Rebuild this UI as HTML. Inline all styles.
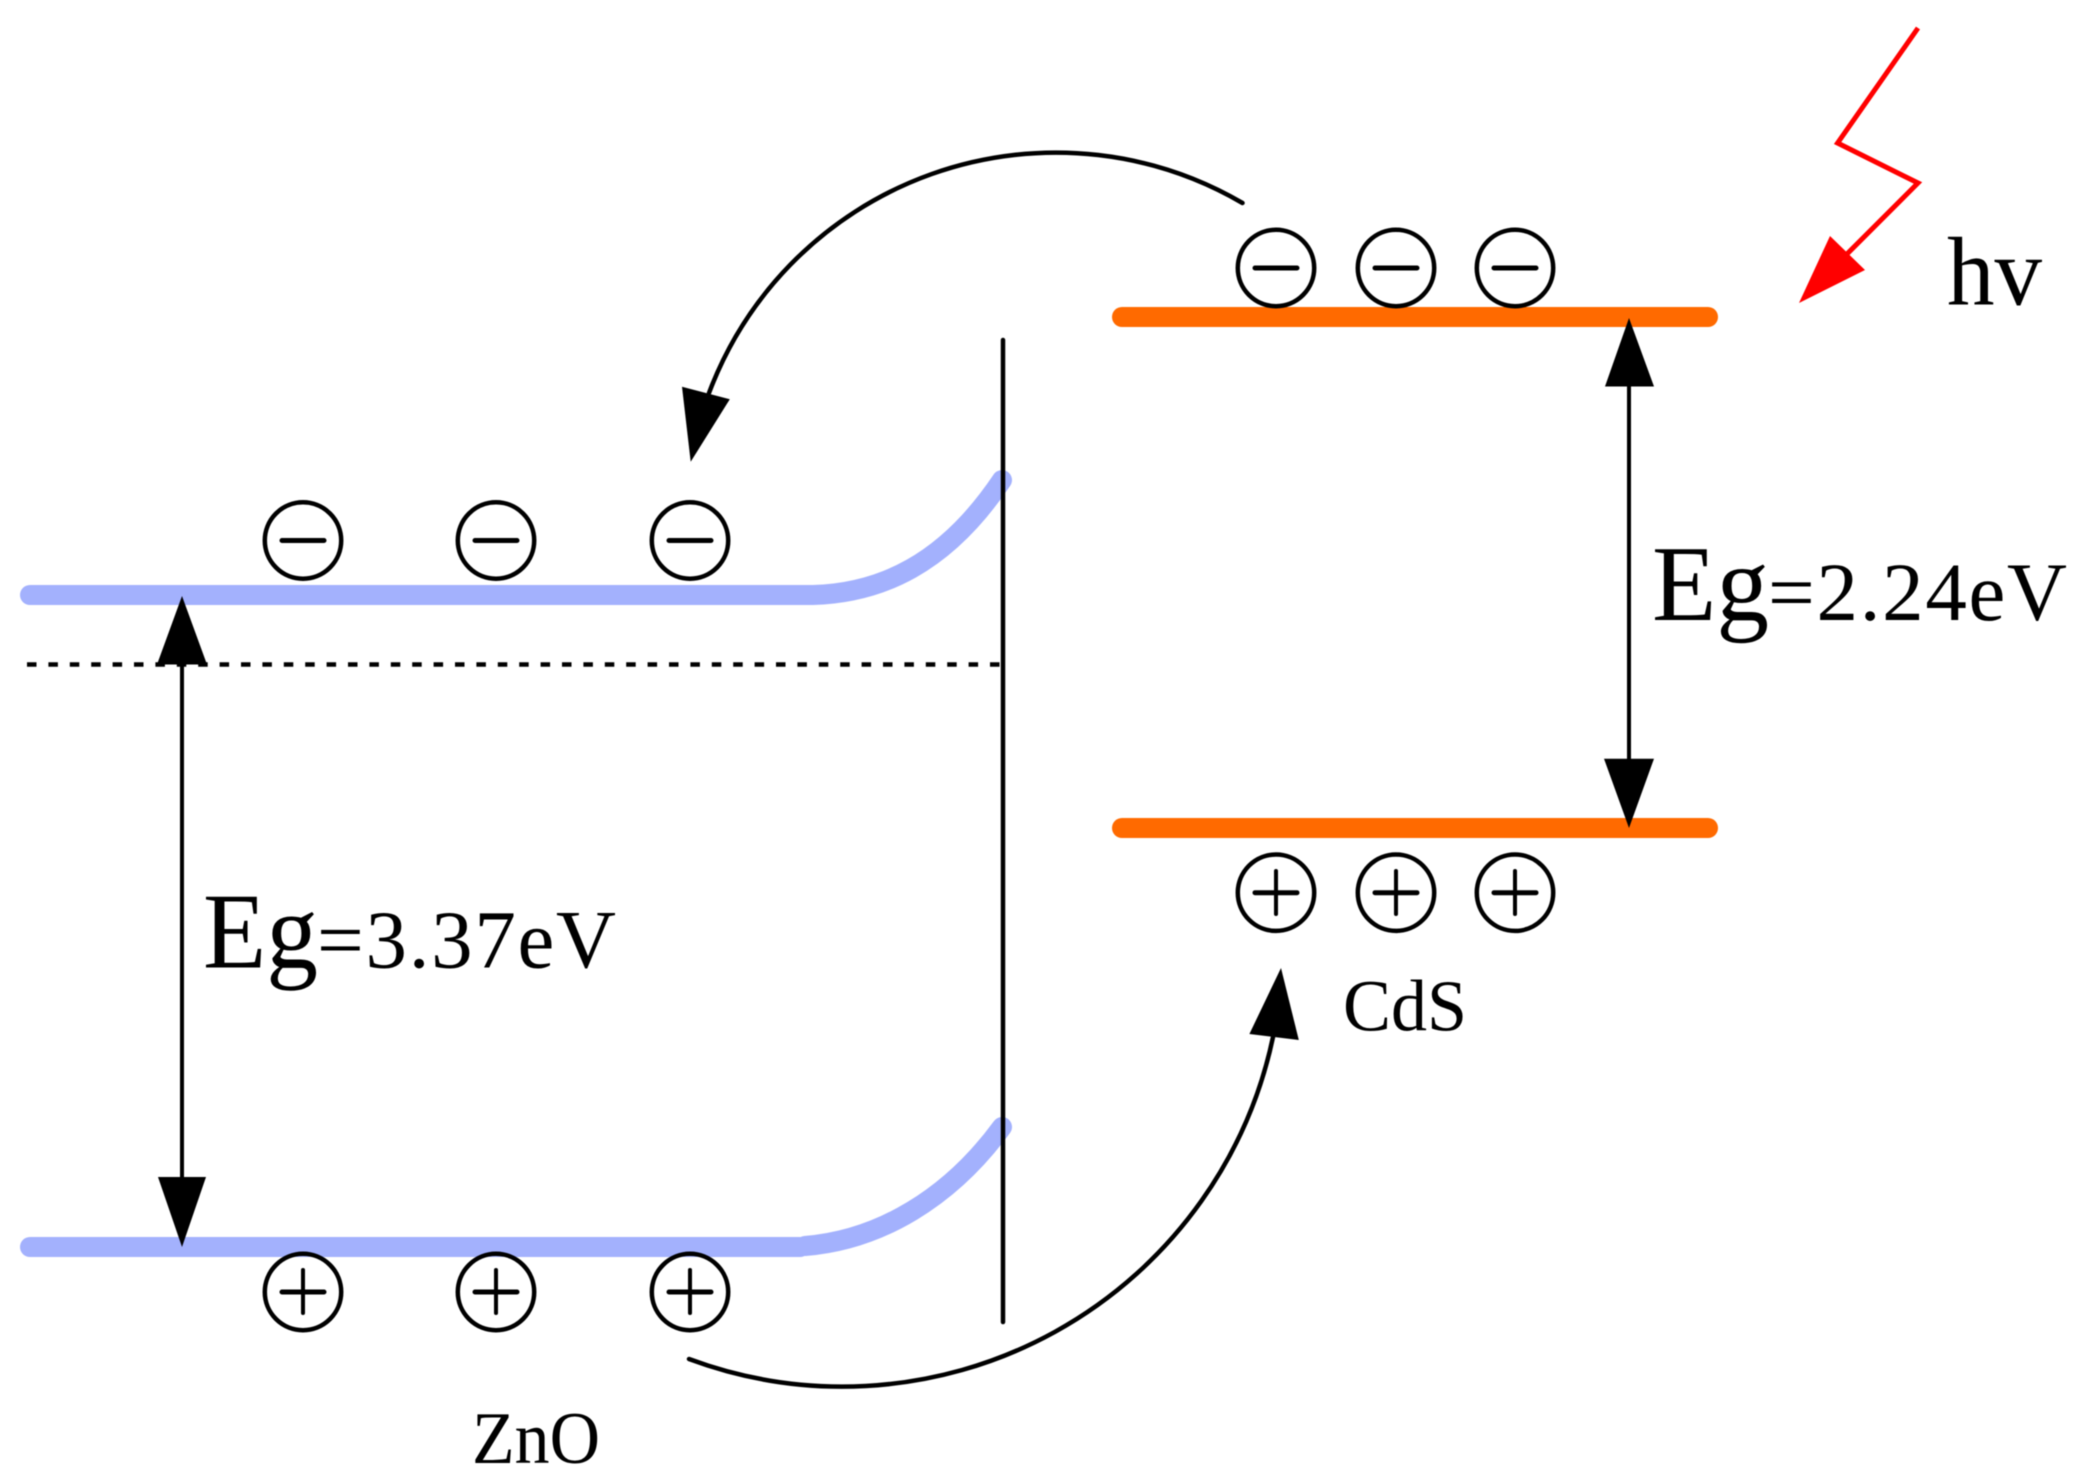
<!DOCTYPE html>
<html lang="en">
<head>
<meta charset="utf-8">
<title>ZnO/CdS band diagram</title>
<style>
html,body{margin:0;padding:0;background:#fff;}
svg{display:block;filter:blur(0.6px);}
text{font-family:"Liberation Serif",serif;fill:#000;}
</style>
</head>
<body>
<svg xmlns="http://www.w3.org/2000/svg" width="2084" height="1484" viewBox="0 0 2084 1484">
<rect width="2084" height="1484" fill="#fff"/>

<!-- ZnO bands -->
<g fill="none" stroke="#a3b1fd" stroke-width="20" stroke-linecap="round">
  <path d="M30,595 L813,595 C880,593 945,565 1002,480"/>
  <path d="M30,1247 L800,1247"/>
  <path d="M805,1246 C880,1240 950,1198 1002,1127"/>
</g>
<!-- CdS bands -->
<g fill="none" stroke="#ff6a00" stroke-width="20" stroke-linecap="round">
  <path d="M1122,317 H1708"/>
  <path d="M1122,828 H1708"/>
</g>

<!-- Interface and Fermi level -->
<path d="M1003,340 V1322" stroke="#000" stroke-width="4.5" stroke-linecap="round" fill="none"/>
<path d="M27,664.5 H1003" stroke="#000" stroke-width="4.5" stroke-dasharray="9.5 11.9" fill="none"/>

<!-- Gap arrows -->
<g stroke="#000" stroke-width="4" fill="none">
  <path d="M182,660 V1180"/>
  <path d="M1629,380 V765"/>
</g>
<g fill="#000">
  <polygon points="182,596 157,664.5 207,664.5"/>
  <polygon points="182,1247 158,1177 206,1177"/>
  <polygon points="1629,318 1605,386.5 1654,386.5"/>
  <polygon points="1629,828 1604,758.7 1654,758.7"/>
</g>

<!-- Transfer arrows -->
<g fill="none" stroke="#000" stroke-width="4.5" stroke-linecap="round">
  <path d="M1242.5,203 A370.5,370.5 0 0 0 709,393"/>
  <path d="M689,1359 A440,440 0 0 0 1273,1037"/>
</g>
<g fill="#000">
  <polygon points="690.7,461.7 682,386.7 729.8,399.3"/>
  <polygon points="1281,968 1249.4,1034 1298.8,1040"/>
</g>

<!-- Light -->
<path d="M1918,28 L1837.6,143 L1918,183 L1842,259" fill="none" stroke="#ff0000" stroke-width="5" stroke-linejoin="miter"/>
<polygon points="1799,303 1830,236 1865,270" fill="#ff0000"/>

<!-- Charges -->
<g fill="none" stroke="#000" stroke-width="4.5">
  <circle cx="1276" cy="268" r="38.2"/>
  <circle cx="1396" cy="268" r="38.2"/>
  <circle cx="1515" cy="268" r="38.2"/>
  <circle cx="303" cy="540.5" r="38.2"/>
  <circle cx="496" cy="540.5" r="38.2"/>
  <circle cx="690" cy="540.5" r="38.2"/>
  <circle cx="1276" cy="892.7" r="38.2"/>
  <circle cx="1396" cy="892.7" r="38.2"/>
  <circle cx="1515" cy="892.7" r="38.2"/>
  <circle cx="303" cy="1292" r="38.2"/>
  <circle cx="496" cy="1292" r="38.2"/>
  <circle cx="690" cy="1292" r="38.2"/>
</g>
<g fill="none" stroke="#000" stroke-width="5" stroke-linecap="round">
  <path d="M1255,268 H1297 M1375,268 H1417 M1494,268 H1536"/>
  <path d="M282,540.5 H324 M475,540.5 H517 M669,540.5 H711"/>
  <path d="M1255,892.7 H1297 M1375,892.7 H1417 M1494,892.7 H1536"/>
  <path d="M282,1292 H324 M475,1292 H517 M669,1292 H711"/>
</g>
<g fill="none" stroke="#000" stroke-width="4" stroke-linecap="round">
  <path d="M1276,871 V914 M1396,871 V914 M1515,871 V914"/>
  <path d="M303,1270 V1313 M496,1270 V1313 M690,1270 V1313"/>
</g>

<!-- Labels -->
<text x="1947" y="304.5" font-size="98" textLength="95" lengthAdjust="spacingAndGlyphs">hv</text>
<text x="1652" y="620" font-size="108" textLength="117" lengthAdjust="spacingAndGlyphs">Eg</text>
<text x="1768" y="620" font-size="83" textLength="299" lengthAdjust="spacing">=2.24eV</text>
<text x="203" y="967.5" font-size="108" textLength="115" lengthAdjust="spacingAndGlyphs">Eg</text>
<text x="317" y="967.5" font-size="83" textLength="299" lengthAdjust="spacing">=3.37eV</text>
<text x="1343" y="1030.7" font-size="73" textLength="124" lengthAdjust="spacingAndGlyphs">CdS</text>
<text x="472" y="1463" font-size="74" textLength="128" lengthAdjust="spacingAndGlyphs">ZnO</text>
</svg>
</body>
</html>
